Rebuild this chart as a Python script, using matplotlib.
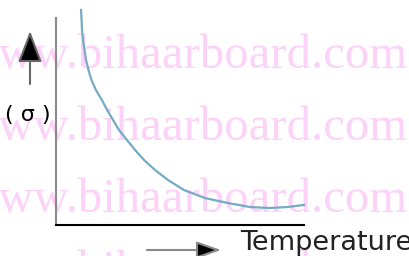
import matplotlib.pyplot as plt

# curve (temperature in arbitrary units, sigma arbitrary)
temperature = [1.01, 1.03, 1.05, 1.09, 1.15, 1.21, 1.31, 1.43, 1.61, 1.85,
               2.06, 2.30, 2.54, 2.86, 3.19, 3.55, 3.99, 4.52, 5.16, 6.01,
               6.94, 7.82, 8.63, 9.35, 10.0]
sigma = [10.39, 9.90, 9.42, 8.94, 8.45, 7.97, 7.49, 7.00, 6.52, 6.04,
         5.56, 5.07, 4.59, 4.11, 3.62, 3.14, 2.66, 2.17, 1.69, 1.30,
         1.06, 0.87, 0.82, 0.87, 0.97]

watermark = "www.bihaarboard.com"
watermark_rows = [-1, 68, 140, 212, 284]   # baselines, px from top

W, H = 409, 256
fig = plt.figure(figsize=(W / 100, H / 100), dpi=100)
fig.patch.set_facecolor("white")

ax = fig.add_axes([56 / W, (H - 225) / H, (304 - 56) / W, (225 - 18) / H])
ax.set_facecolor("none")
ax.plot(temperature, sigma, color="#74abc4", lw=1.6, clip_on=False, zorder=3)
ax.set_xlim(0, 10)
ax.set_ylim(0, 10)
ax.set_xticks([])
ax.set_yticks([])
for side in ["top", "right"]:
    ax.spines[side].set_visible(False)
ax.spines["left"].set_color("#8a8a8a")
ax.spines["left"].set_linewidth(1.5)
ax.spines["bottom"].set_color("black")
ax.spines["bottom"].set_linewidth(1.5)

# watermark behind everything
for yb in watermark_rows:
    fig.text(-36 / W, 1 - yb / H, watermark, fontsize=35, color="#fdd2f8",
             family="Liberation Serif", va="baseline", ha="left", zorder=-5)

# axis labels with arrows
fig.text(28 / W, 1 - 115 / H, "( σ )", fontsize=16, ha="center", va="center",
         color="black")
ax.annotate("", xy=(30, H - 31), xytext=(30, H - 84), xycoords="figure pixels",
            textcoords="figure pixels",
            arrowprops=dict(arrowstyle="-|>,head_length=1.3,head_width=0.5",
                            ec="#666666", fc="black", lw=1.5,
                            mutation_scale=15, shrinkA=0, shrinkB=0),
            annotation_clip=False)
ax.annotate("", xy=(221, H - 250), xytext=(147, H - 250),
            xycoords="figure pixels", textcoords="figure pixels",
            arrowprops=dict(arrowstyle="-|>,head_length=1.0,head_width=0.35",
                            ec="#888888", fc="black", lw=1.5,
                            mutation_scale=15, shrinkA=0, shrinkB=0),
            annotation_clip=False)
fig.text(240 / W, 1 - 250 / H, "Temperature", fontsize=19.5, ha="left",
         va="baseline", color="#222222")

fig.savefig("out.png", dpi=100)
